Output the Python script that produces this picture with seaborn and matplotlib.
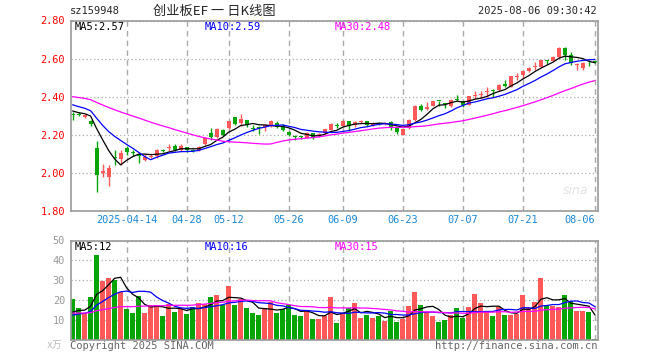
import numpy as np
import pandas as pd
import matplotlib
matplotlib.use("Agg")
import matplotlib.pyplot as plt
import seaborn as sns

# ------------------------------------------
# Data (sz159948, daily)
# ------------------------------------------

# closes / volumes before the visible window (only used for the moving averages)
prev_close = [2.45, 2.44, 2.46, 2.43, 2.41, 2.42, 2.44, 2.45, 2.43, 2.42,
              2.40, 2.41, 2.43, 2.42, 2.40, 2.41, 2.42, 2.41, 2.40, 2.39,
              2.40, 2.39, 2.39, 2.38, 2.39, 2.35, 2.33, 2.32, 2.32]
prev_vol = [15, 14, 16, 13, 14, 15, 13, 12, 14, 16,
            14, 13, 15, 14, 13, 12, 14, 15, 14, 14,
            11, 10, 12, 11, 11, 12, 13, 12, 12.5]

opens = [2.310, 2.310, 2.293, 2.275, 2.130, 1.998, 1.980, 2.085, 2.074, 2.130,
         2.110, 2.100, 2.070, 2.086, 2.091, 2.120, 2.130, 2.139, 2.121, 2.136,
         2.119, 2.120, 2.151, 2.212, 2.191, 2.226, 2.235, 2.293, 2.262, 2.279,
         2.237, 2.240, 2.240, 2.244, 2.262, 2.241, 2.214, 2.193, 2.190, 2.183,
         2.209, 2.198, 2.209, 2.226, 2.250, 2.247, 2.270, 2.250, 2.268, 2.270,
         2.252, 2.262, 2.256, 2.267, 2.235, 2.200, 2.235, 2.280, 2.349, 2.335,
         2.349, 2.380, 2.362, 2.350, 2.386, 2.380, 2.354, 2.405, 2.408, 2.426,
         2.430, 2.437, 2.468, 2.451, 2.505, 2.515, 2.535, 2.558, 2.556, 2.595,
         2.588, 2.609, 2.656, 2.620, 2.565, 2.551, 2.590, 2.585]
highs = [2.320, 2.320, 2.308, 2.280, 2.165, 2.047, 2.042, 2.121, 2.121, 2.139,
         2.121, 2.102, 2.098, 2.100, 2.125, 2.125, 2.151, 2.150, 2.153, 2.136,
         2.125, 2.140, 2.190, 2.238, 2.235, 2.230, 2.272, 2.295, 2.310, 2.280,
         2.250, 2.245, 2.255, 2.277, 2.270, 2.255, 2.220, 2.200, 2.195, 2.215,
         2.210, 2.210, 2.232, 2.261, 2.262, 2.280, 2.270, 2.275, 2.280, 2.273,
         2.265, 2.265, 2.265, 2.270, 2.240, 2.230, 2.284, 2.358, 2.360, 2.370,
         2.380, 2.380, 2.365, 2.388, 2.410, 2.380, 2.405, 2.430, 2.430, 2.452,
         2.438, 2.468, 2.490, 2.507, 2.527, 2.533, 2.555, 2.582, 2.595, 2.595,
         2.612, 2.660, 2.660, 2.635, 2.575, 2.580, 2.592, 2.590]
lows = [2.280, 2.300, 2.290, 2.244, 1.900, 1.977, 1.932, 2.042, 2.042, 2.095,
        2.091, 2.051, 2.060, 2.080, 2.077, 2.110, 2.117, 2.115, 2.117, 2.110,
        2.110, 2.115, 2.145, 2.174, 2.185, 2.195, 2.233, 2.250, 2.244, 2.240,
        2.220, 2.205, 2.220, 2.240, 2.237, 2.220, 2.195, 2.175, 2.180, 2.183,
        2.180, 2.190, 2.203, 2.226, 2.235, 2.240, 2.218, 2.240, 2.260, 2.245,
        2.248, 2.250, 2.250, 2.223, 2.205, 2.200, 2.230, 2.275, 2.325, 2.330,
        2.349, 2.350, 2.340, 2.348, 2.375, 2.345, 2.354, 2.390, 2.395, 2.400,
        2.400, 2.432, 2.450, 2.451, 2.490, 2.500, 2.532, 2.540, 2.556, 2.570,
        2.585, 2.605, 2.595, 2.567, 2.538, 2.538, 2.560, 2.575]
closes = [2.305, 2.305, 2.305, 2.258, 1.990, 2.012, 2.025, 2.080, 2.104, 2.110,
          2.107, 2.090, 2.083, 2.090, 2.121, 2.117, 2.135, 2.121, 2.139, 2.121,
          2.117, 2.135, 2.183, 2.188, 2.230, 2.200, 2.270, 2.258, 2.284, 2.253,
          2.233, 2.237, 2.250, 2.270, 2.240, 2.223, 2.200, 2.190, 2.188, 2.209,
          2.188, 2.200, 2.230, 2.256, 2.245, 2.270, 2.244, 2.265, 2.270, 2.250,
          2.262, 2.258, 2.260, 2.241, 2.214, 2.230, 2.280, 2.349, 2.330, 2.345,
          2.377, 2.377, 2.360, 2.384, 2.384, 2.354, 2.405, 2.408, 2.410, 2.430,
          2.428, 2.463, 2.455, 2.507, 2.508, 2.533, 2.551, 2.562, 2.595, 2.588,
          2.609, 2.656, 2.617, 2.577, 2.572, 2.577, 2.585, 2.580]
volumes = [20.5, 16.2, 13.8, 21.7, 42.5, 29.7, 31.2, 30.0, 24.2, 15.8,
           13.7, 22.2, 13.7, 17.5, 17.8, 12.2, 18.3, 14.2, 16.3, 13.0,
           16.7, 18.7, 18.3, 21.7, 22.5, 17.8, 27.0, 17.5, 20.5, 16.0,
           13.7, 12.5, 16.2, 19.2, 13.7, 15.5, 17.8, 12.5, 12.2, 15.0,
           10.8, 10.8, 12.0, 21.7, 8.7, 13.8, 16.2, 18.5, 11.0, 12.5,
           11.0, 12.2, 9.5, 14.5, 9.0, 10.8, 17.0, 24.0, 17.5, 13.8,
           12.2, 9.0, 10.0, 12.5, 16.0, 11.0, 16.7, 23.0, 18.5, 14.5,
           12.2, 16.7, 12.5, 12.5, 13.3, 22.5, 16.2, 19.3, 31.2, 17.0,
           17.0, 16.5, 22.5, 19.5, 14.5, 14.5, 14.0, 0.5]

tick_pos = [9, 19, 26, 36, 45, 55, 65, 75, 87]
tick_labels = ["2025-04-14", "04-28", "05-12", "05-26", "06-09",
               "06-23", "07-07", "07-21", "08-06"]

# last values as printed in the chart header
ma_text = ["MA5:2.57", "MA10:2.59", "MA30:2.48"]
vma_text = ["MA5:12", "MA10:16", "MA30:15"]

# ------------------------------------------
# Build table + moving averages
# ------------------------------------------

df = pd.DataFrame({"open": opens, "high": highs, "low": lows,
                   "close": closes, "vol": volumes})
df["idx"] = np.arange(len(df))
df["dir"] = np.where(df["close"] >= df["open"], "up", "down")

n_prev = len(prev_close)
all_close = pd.Series(prev_close + closes)
all_vol = pd.Series(prev_vol + volumes)
for w in (5, 10, 30):
    df[f"ma{w}"] = all_close.rolling(w).mean().iloc[n_prev:].values
    df[f"vma{w}"] = all_vol.rolling(w).mean().iloc[n_prev:].values

RED = "#ff5858"
GREEN = "#06a506"
MA_COLORS = {5: "black", 10: "#0000ff", 30: "#ff00ff"}
GRID = "#aaaaaa"
SPINE = "#9a9a9a"

# ------------------------------------------
# Figure
# ------------------------------------------

sns.set_style("white")
plt.rcParams["font.family"] = ["DejaVu Sans Mono", "Noto Sans CJK SC"]

W, H = 660, 360
fig = plt.figure(figsize=(W / 100, H / 100), dpi=100)


def fx(px):
    return px / W


def fy(py):
    return 1 - py / H


ax = fig.add_axes([fx(70.5), fy(211), fx(527), (211 - 20.5) / H])
axv = fig.add_axes([fx(70.5), fy(340), fx(527), (340 - 240.5) / H])

# candles
col = df["dir"].map({"up": RED, "down": GREEN})
ax.vlines(df["idx"], df["low"], df["high"], colors=col, linewidth=1)
body = np.maximum((df["close"] - df["open"]).abs(), 0.005)
ax.bar(df["idx"], body, bottom=np.minimum(df["open"], df["close"]),
       width=0.7, color=col, linewidth=0)

# volume bars
axv.bar(df["idx"], df["vol"], width=0.83, color=col, linewidth=0)

for w in (5, 10, 30):
    sns.lineplot(x=df["idx"], y=df[f"ma{w}"], color=MA_COLORS[w],
                 linewidth=0.9, ax=ax)
    sns.lineplot(x=df["idx"], y=df[f"vma{w}"], color=MA_COLORS[w],
                 linewidth=0.9, ax=axv)

# axes styling
for a in (ax, axv):
    a.set_xlim(-0.35, 87.42)
    a.set_xticks(tick_pos)
    a.grid(axis="x", linestyle=(0, (4, 3)), color=GRID, linewidth=1)
    a.grid(axis="y", linestyle=(0, (1, 2)), color=GRID, linewidth=0.9)
    a.set_axisbelow(True)
    a.set_xlabel("")
    a.set_ylabel("")
    for s in a.spines.values():
        s.set_color(SPINE)
        s.set_linewidth(1.2)
    a.tick_params(length=0)

ax.set_ylim(1.80, 2.80)
ax.set_yticks(np.arange(1.80, 2.81, 0.20))
ax.set_yticklabels([f"{v:.2f}" for v in np.arange(1.80, 2.81, 0.20)],
                   color="red", fontsize=7.4)
ax.set_xticklabels(tick_labels, color="#1a88d8", fontsize=7.4)
ax.get_xticklabels()[-1].set_ha("right")
ax.tick_params(axis="x", pad=3)
ax.tick_params(axis="y", pad=4)

axv.set_ylim(0, 50)
axv.set_yticks([10, 20, 30, 40, 50])
axv.set_yticklabels(["10", "20", "30", "40", "50"], color="#999999",
                    fontsize=7.4)
axv.set_xticklabels([])
axv.tick_params(axis="y", pad=4)

# ------------------------------------------
# Texts
# ------------------------------------------

fig.text(fx(70), fy(11), "sz159948", fontsize=7.5, va="center")
fig.text(fx(214), fy(11), "创业板EF 一 日K线图", fontsize=9.5, ha="center",
         va="center", family=["Noto Sans CJK SC", "DejaVu Sans"])
fig.text(fx(597), fy(11), "2025-08-06 09:30:42", fontsize=7.5, ha="right",
         va="center")

for lbl, vlbl, x0, w in zip(ma_text, vma_text, (75, 205, 335), (5, 10, 30)):
    fig.text(fx(x0), fy(27), lbl, fontsize=7.5, color=MA_COLORS[w], va="center")
    fig.text(fx(x0), fy(247), vlbl, fontsize=7.5, color=MA_COLORS[w],
             va="center")

fig.text(fx(576), fy(191), "sina", fontsize=9, color="#e2e2e2",
         style="italic", ha="center", va="center", family="DejaVu Sans")
fig.text(fx(54), fy(345), "x万", fontsize=7, color="#bbbbbb", ha="center",
         va="center", family=["DejaVu Sans Mono", "Noto Sans CJK SC"])
fig.text(fx(70), fy(346), "Copyright 2025 SINA.COM", fontsize=7.5,
         color="#666666", va="center")
fig.text(fx(597), fy(346), "http://finance.sina.com.cn", fontsize=7.5,
         color="#666666", ha="right", va="center")

fig.savefig("out.png", dpi=100)
